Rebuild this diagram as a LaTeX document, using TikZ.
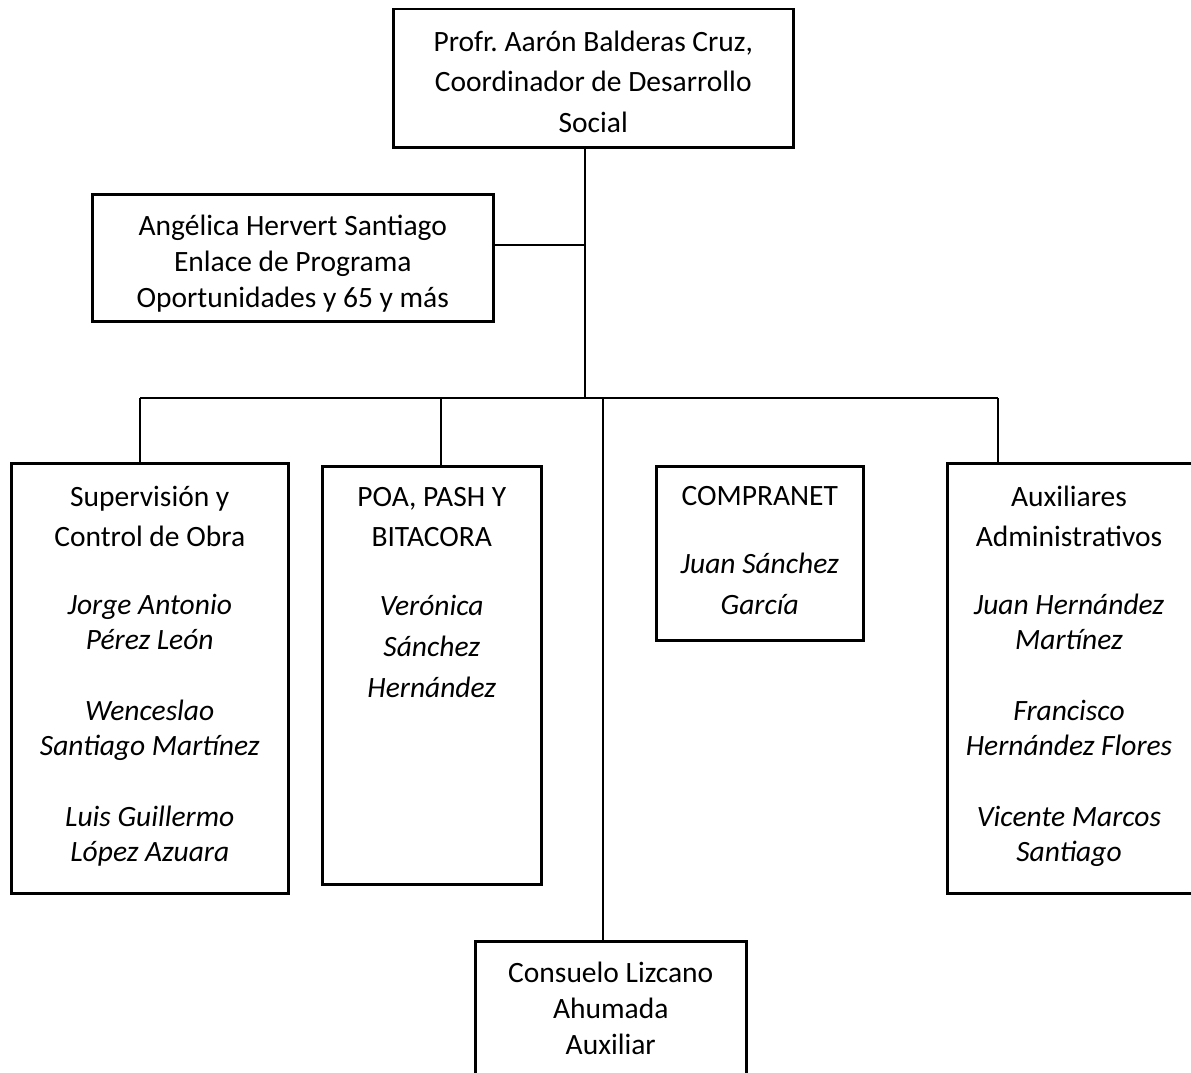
\documentclass[tikz,border=0pt]{standalone}
\usepackage{fontspec}
\setmainfont{Carlito}
\usetikzlibrary{positioning}

\begin{document}
\begin{tikzpicture}[x=1pt, y=-1pt,
      unit/.style={draw=black, line width=2.5pt, anchor=north west, inner sep=0pt},
      txt/.style={align=center, anchor=base, inner sep=0pt,
        font=\fontsize{29.5}{35}\selectfont},
      link/.style={line width=2.3pt, black}]
    \fill[white] (0,0) rectangle (1191,1073);
    \clip (0,0) rectangle (1191,1073);
    % boxes
    \node[unit, minimum width=400, minimum height=138] (coord) at (392,8) {};
    \node[unit, minimum width=401, minimum height=127] (enlace) at (91,193) {};
    \node[unit, minimum width=277, minimum height=430] (superv) at (10,462) {};
    \node[unit, minimum width=219, minimum height=418] (poa) at (321,465) {};
    \node[unit, minimum width=207, minimum height=174] (compra) at (655,465) {};
    \node[unit, minimum width=250, minimum height=430] (aux) at (946,462) {};
    \node[unit, minimum width=271, minimum height=160] (consuelo) at (474,940) {};
    % texts (anchored on the last line)
    \node[txt] (coord-t) at ([yshift=-124pt]coord.north)
      {Profr.\ Aarón Balderas Cruz,\\[5.5pt]Coordinador de Desarrollo\\[5.5pt]Social};
    \node[txt] (enlace-t) at ([yshift=-114pt]enlace.north)
      {Angélica Hervert Santiago\\[1pt]Enlace de Programa\\[1pt]Oportunidades y 65 y más};
    \node[txt] (superv-t) at ([yshift=-399pt]superv.north)
      {Supervisión y\\[5pt]Control de Obra\\[33pt]
       \textit{Jorge Antonio}\\\textit{Pérez León}\\[36pt]
       \textit{Wenceslao}\\\textit{Santiago Martínez}\\[36pt]
       \textit{Luis Guillermo}\\\textit{López Azuara}};
    \node[txt] (poa-t) at ([yshift=-232pt]poa.north)
      {POA, PASH Y\\[5pt]BITACORA\\[34pt]
       \textit{Verónica}\\[6pt]\textit{Sánchez}\\[6pt]\textit{Hernández}};
    \node[txt] (compra-t) at ([yshift=-149pt]compra.north)
      {COMPRANET\\[33pt]\textit{Juan Sánchez}\\[6pt]\textit{García}};
    \node[txt] (aux-t) at (1069,861)
      {Auxiliares\\[5pt]Administrativos\\[33pt]
       \textit{Juan Hernández}\\\textit{Martínez}\\[36pt]
       \textit{Francisco}\\\textit{Hernández Flores}\\[36pt]
       \textit{Vicente Marcos}\\\textit{Santiago}};
    \node[txt] (consuelo-t) at ([yshift=-114pt]consuelo.north)
      {Consuelo Lizcano\\[1pt]Ahumada\\[1pt]Auxiliar};
    % connectors
    \coordinate (trunk) at (585,398);
    \coordinate (tap) at (585,245);
    \coordinate (b1) at (140,398);
    \coordinate (b2) at (441,398);
    \coordinate (b3) at (603,398);
    \coordinate (b4) at (998,398);
    \draw[link] (coord.south -| trunk) -- (trunk);
    \draw[link] (tap -| enlace.east) -- (tap);
    \draw[link] (b1) -- (b4);
    \draw[link] (b1) -- (b1 |- superv.north);
    \draw[link] (b2) -- (b2 |- poa.north);
    \draw[link] (b3) -- (b3 |- consuelo.north);
    \draw[link] (b4) -- (b4 |- aux.north);
  \end{tikzpicture}
\end{document}
